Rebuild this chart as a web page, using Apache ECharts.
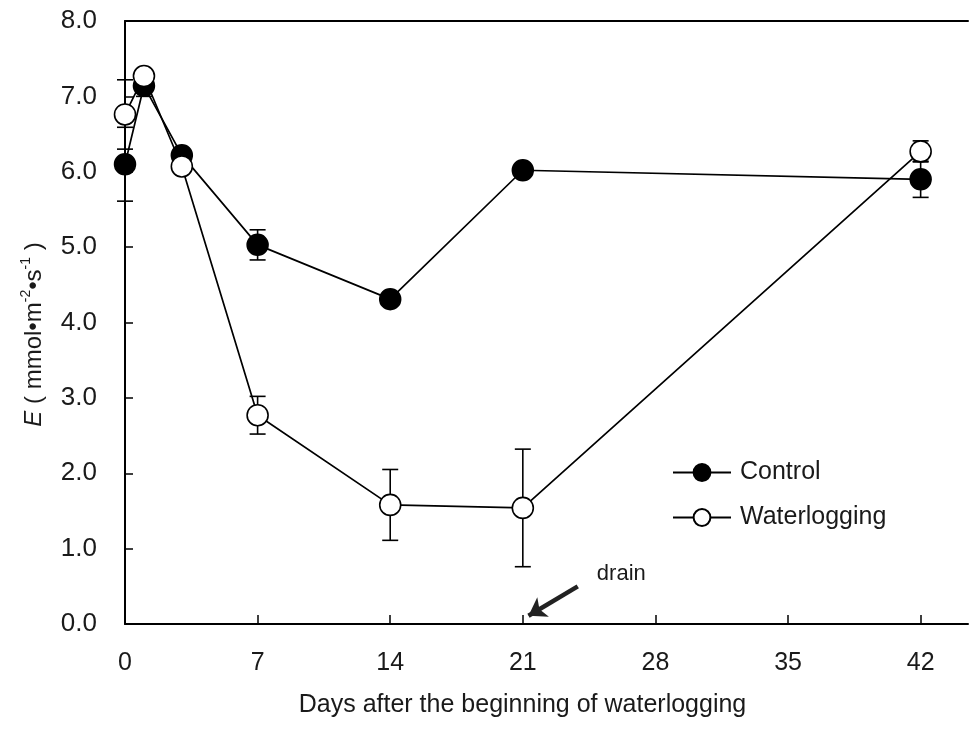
<!DOCTYPE html>
<html>
<head>
<meta charset="utf-8">
<script src="https://cdn.jsdelivr.net/npm/echarts@6/dist/echarts.min.js"></script>
<style>
html,body{margin:0;padding:0;background:#fff;}
#chart{width:969px;height:734px;}
</style>
</head>
<body>
<div id="chart"></div>
<script>
// Data
const days = [0, 1, 3, 7, 14, 21, 42];
const controlMean = [6.10, 7.14, 6.22, 5.03, 4.31, 6.02, 5.90];
const controlErr  = [0.49, 0.14, 0.05, 0.20, 0.05, 0.05, 0.24];
const waterMean   = [6.76, 7.27, 6.07, 2.77, 1.58, 1.54, 6.27];
const waterErr    = [0.46, 0.08, 0.05, 0.25, 0.47, 0.78, 0.14];
const xTicks = [0, 7, 14, 21, 28, 35, 42];
const drainArrow = [[23.9, 0.50], [21.3, 0.11]];
const drainLabelPos = [26.2, 0.66];

const chart = echarts.init(document.getElementById('chart'));
const FONT = 'Liberation Sans, Arial, sans-serif';
const TXT = '#1a1a1a';

function errData(mean, err) {
  return days.map((d, i) => [d, mean[i] - err[i], mean[i] + err[i]]);
}
function errSeries(name, mean, err) {
  return {
    type: 'custom',
    name: name + '_err',
    data: errData(mean, err),
    z: 1,
    silent: true,
    renderItem: function (params, api) {
      const x = api.value(0);
      const lo = api.coord([x, api.value(1)]);
      const hi = api.coord([x, api.value(2)]);
      const hw = 8;
      const st = { stroke: '#000', lineWidth: 1.6 };
      return {
        type: 'group',
        children: [
          { type: 'line', shape: { x1: lo[0], y1: lo[1], x2: hi[0], y2: hi[1] }, style: st },
          { type: 'line', shape: { x1: lo[0] - hw, y1: lo[1], x2: lo[0] + hw, y2: lo[1] }, style: st },
          { type: 'line', shape: { x1: hi[0] - hw, y1: hi[1], x2: hi[0] + hw, y2: hi[1] }, style: st }
        ]
      };
    }
  };
}

const option = {
  animation: false,
  backgroundColor: '#fff',
  textStyle: { fontFamily: FONT },
  grid: { left: 125, top: 21, right: 1, bottom: 110, containLabel: false },
  legend: {
    orient: 'vertical',
    left: 667,
    top: 455,
    itemWidth: 58,
    itemHeight: 21,
    itemGap: 20,
    data: ['Control', 'Waterlogging'],
    textStyle: { fontSize: 25, color: TXT, fontFamily: FONT, padding: [0, 0, 0, 4] }
  },
  xAxis: [{
    type: 'value',
    min: 0,
    max: 44.5,
    interval: 7,
    name: 'Days after the beginning of waterlogging',
    nameLocation: 'middle',
    nameGap: 69,
    nameTextStyle: { fontSize: 25, color: TXT, fontFamily: FONT, padding: [0, 48, 0, 0] },
    axisLine: { show: true, lineStyle: { color: '#000', width: 2 } },
    axisTick: { show: true, inside: true, length: 9, lineStyle: { color: '#000', width: 1.5 }, customValues: xTicks },
    axisLabel: { margin: 27, fontSize: 25, color: TXT, fontFamily: FONT, customValues: xTicks },
    splitLine: { show: false }
  }, {
    type: 'value',
    position: 'top',
    min: 0,
    max: 44.5,
    axisLine: { show: true, lineStyle: { color: '#000', width: 2 } },
    axisTick: { show: false },
    axisLabel: { show: false },
    splitLine: { show: false }
  }],
  yAxis: {
    type: 'value',
    min: 0,
    max: 8,
    interval: 1,
    name: '{e|E}{t| ( mmol•m}{s|-2}{t|•s}{s|-1}{t| )}',
    nameLocation: 'middle',
    nameGap: 76,
    nameTextStyle: {
      color: TXT,
      padding: [0, 24, 0, 0],
      rich: {
        e: { fontSize: 24, fontStyle: 'italic', fontFamily: FONT, color: TXT },
        t: { fontSize: 24, fontFamily: FONT, color: TXT },
        s: { fontSize: 14, fontFamily: FONT, color: TXT, padding: [0, 0, 16, 0] }
      }
    },
    axisLine: { show: true, lineStyle: { color: '#000', width: 2 } },
    axisTick: { show: true, inside: true, length: 8, lineStyle: { color: '#000', width: 1.5 } },
    axisLabel: { margin: 28, fontSize: 26, color: TXT, fontFamily: FONT, formatter: v => v.toFixed(1) },
    splitLine: { show: false }
  },
  series: [
    errSeries('Control', controlMean, controlErr),
    errSeries('Waterlogging', waterMean, waterErr),
    {
      name: 'Control',
      type: 'line',
      data: days.map((d, i) => [d, controlMean[i]]),
      symbol: 'circle',
      symbolSize: 21,
      z: 3,
      lineStyle: { color: '#000', width: 1.7 },
      itemStyle: { color: '#000', borderColor: '#000', borderWidth: 1.5 },
      markLine: {
        silent: true,
        symbol: ['none', 'arrow'],
        symbolSize: [17, 17],
        label: { show: false },
        lineStyle: { color: '#222', width: 4.5, type: 'solid' },
        data: [[{ coord: drainArrow[0] }, { coord: drainArrow[1] }]]
      },
      markPoint: {
        silent: true,
        symbol: 'rect',
        symbolSize: 1,
        itemStyle: { color: 'rgba(0,0,0,0)' },
        label: { show: true, formatter: 'drain', fontSize: 22, color: TXT, fontFamily: FONT, position: 'inside' },
        data: [{ coord: drainLabelPos }]
      }
    },
    {
      name: 'Waterlogging',
      type: 'line',
      data: days.map((d, i) => [d, waterMean[i]]),
      symbol: 'circle',
      symbolSize: 21,
      z: 4,
      lineStyle: { color: '#000', width: 1.7 },
      itemStyle: { color: '#fff', borderColor: '#000', borderWidth: 1.6 }
    }
  ]
};
chart.setOption(option);
</script>
</body>
</html>
